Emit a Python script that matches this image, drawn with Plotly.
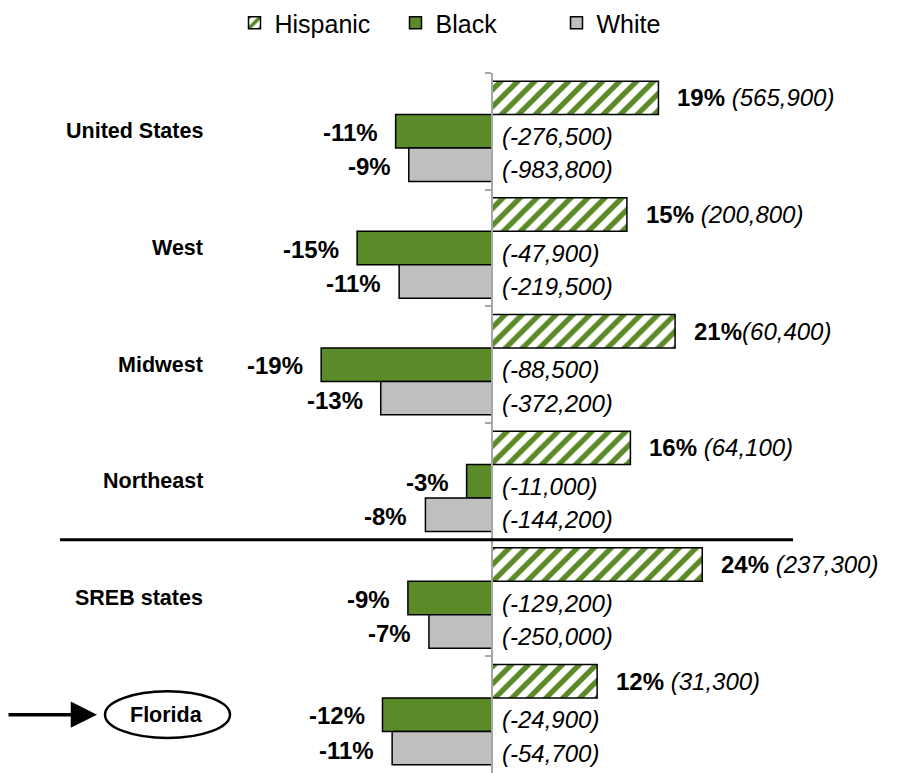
import plotly.graph_objects as go

regions = ["United States", "West", "Midwest", "Northeast", "SREB states", "Florida"]
hispanic = [19.0, 15.4, 20.9, 15.8, 24.0, 12.0]
black = [-11.0, -15.4, -19.5, -2.9, -9.6, -12.5]
white = [-9.5, -10.6, -12.7, -7.6, -7.2, -11.4]

hisp_pct = ["19%", "15%", "21%", "16%", "24%", "12%"]
hisp_cnt = ["(565,900)", "(200,800)", "(60,400)", "(64,100)", "(237,300)", "(31,300)"]
hisp_sep = [" ", " ", "", " ", " ", " "]
black_pct = ["-11%", "-15%", "-19%", "-3%", "-9%", "-12%"]
black_cnt = ["(-276,500)", "(-47,900)", "(-88,500)", "(-11,000)", "(-129,200)", "(-24,900)"]
white_pct = ["-9%", "-11%", "-13%", "-8%", "-7%", "-11%"]
white_cnt = ["(-983,800)", "(-219,500)", "(-372,200)", "(-144,200)", "(-250,000)", "(-54,700)"]

GREEN = "#5B8A28"
GRAY = "#BFBFBF"
W, H = 903, 773
TOP = 73
ZERO_PX = 492
SCALE = 8.76  # px per percent
BARGAP = 0.14
FONT = "Liberation Sans, Arial, sans-serif"
FS = 24

x_range = [-ZERO_PX / SCALE, (W - ZERO_PX) / SCALE]
plot_h = H - TOP

fig = go.Figure()
fig.add_trace(go.Bar(
    y=regions, x=hispanic, orientation="h", name="Hispanic",
    marker=dict(color=GREEN,
                pattern=dict(shape="/", fgcolor=GREEN, bgcolor="white", fgopacity=1,
                             fillmode="replace", size=12, solidity=0.45),
                line=dict(color="black", width=1.5)),
))
fig.add_trace(go.Bar(
    y=regions, x=black, orientation="h", name="Black",
    marker=dict(color=GREEN, line=dict(color="black", width=1.5)),
))
fig.add_trace(go.Bar(
    y=regions, x=white, orientation="h", name="White",
    marker=dict(color=GRAY, line=dict(color="black", width=1.5)),
))

off = (1 - BARGAP) / 3.0
ann = []
for i, r in enumerate(regions):
    ann.append(dict(x=hispanic[i], y=i - off, xref="x", yref="y", xanchor="left", yanchor="middle",
                    xshift=17, showarrow=False,
                    text="<b>" + hisp_pct[i] + "</b>" + hisp_sep[i] + "<i>" + hisp_cnt[i] + "</i>",
                    font=dict(family=FONT, size=FS, color="black")))
    ann.append(dict(x=black[i], y=i, xref="x", yref="y", xanchor="right", yanchor="middle",
                    xshift=-16, yshift=-1, showarrow=False, text="<b>" + black_pct[i] + "</b>",
                    font=dict(family=FONT, size=FS, color="black")))
    ann.append(dict(x=0, y=i, xref="x", yref="y", xanchor="left", yanchor="middle",
                    xshift=8, yshift=-5, showarrow=False, text="<i>" + black_cnt[i] + "</i>",
                    font=dict(family=FONT, size=FS, color="black")))
    ann.append(dict(x=white[i], y=i + off, xref="x", yref="y", xanchor="right", yanchor="middle",
                    xshift=-16, yshift=-2, showarrow=False, text="<b>" + white_pct[i] + "</b>",
                    font=dict(family=FONT, size=FS, color="black")))
    ann.append(dict(x=0, y=i + off, xref="x", yref="y", xanchor="left", yanchor="middle",
                    xshift=8, yshift=-5, showarrow=False, text="<i>" + white_cnt[i] + "</i>",
                    font=dict(family=FONT, size=FS, color="black")))
    ann.append(dict(x=205 / W, y=i, xref="paper", yref="y", xanchor="right", yanchor="middle",
                    showarrow=False, text="<b>" + r + "</b>",
                    font=dict(family=FONT, size=21.5, color="black")))

fl = regions.index("Florida")
ann.append(dict(x=97 / W, y=fl, xref="paper", yref="y", ax=-90, ay=0, text="",
                showarrow=True, arrowhead=2, arrowsize=1.5, arrowwidth=3.5, arrowcolor="black"))

shapes = [
    dict(type="line", xref="paper", yref="y", x0=60 / W, x1=793 / W, y0=3.5, y1=3.5,
         line=dict(color="black", width=3)),
    dict(type="circle", xref="paper", yref="y", x0=105 / W, x1=230 / W, y0=fl - 0.2, y1=fl + 0.2,
         line=dict(color="black", width=2.5)),
]

fig.update_layout(
    width=W, height=H,
    margin=dict(l=0, r=0, t=TOP, b=0, pad=0),
    paper_bgcolor="white", plot_bgcolor="white",
    barmode="group", bargap=BARGAP, bargroupgap=0,
    font=dict(family=FONT, size=FS, color="black"),
    showlegend=True,
    legend=dict(orientation="h", x=476 / W, xanchor="center", y=H / plot_h, yanchor="top",
                font=dict(family=FONT, size=25, color="black"), traceorder="normal",
                entrywidth=116, entrywidthmode="pixels"),
    xaxis=dict(range=x_range, showgrid=False, zeroline=False, showticklabels=False,
               showline=False, ticks=""),
    yaxis=dict(categoryorder="array", categoryarray=regions, autorange="reversed",
               anchor="free", position=ZERO_PX / W, side="left",
               showgrid=False, zeroline=False, showticklabels=False,
               showline=True, linecolor="#A6A6A6", linewidth=1.5,
               ticks="outside", tickson="boundaries", ticklen=6, tickcolor="#A6A6A6", tickwidth=1.5),
    annotations=ann,
    shapes=shapes,
)

fig.write_html("out.html", config={"displayModeBar": False},
               post_script="document.body.style.margin='0';")
